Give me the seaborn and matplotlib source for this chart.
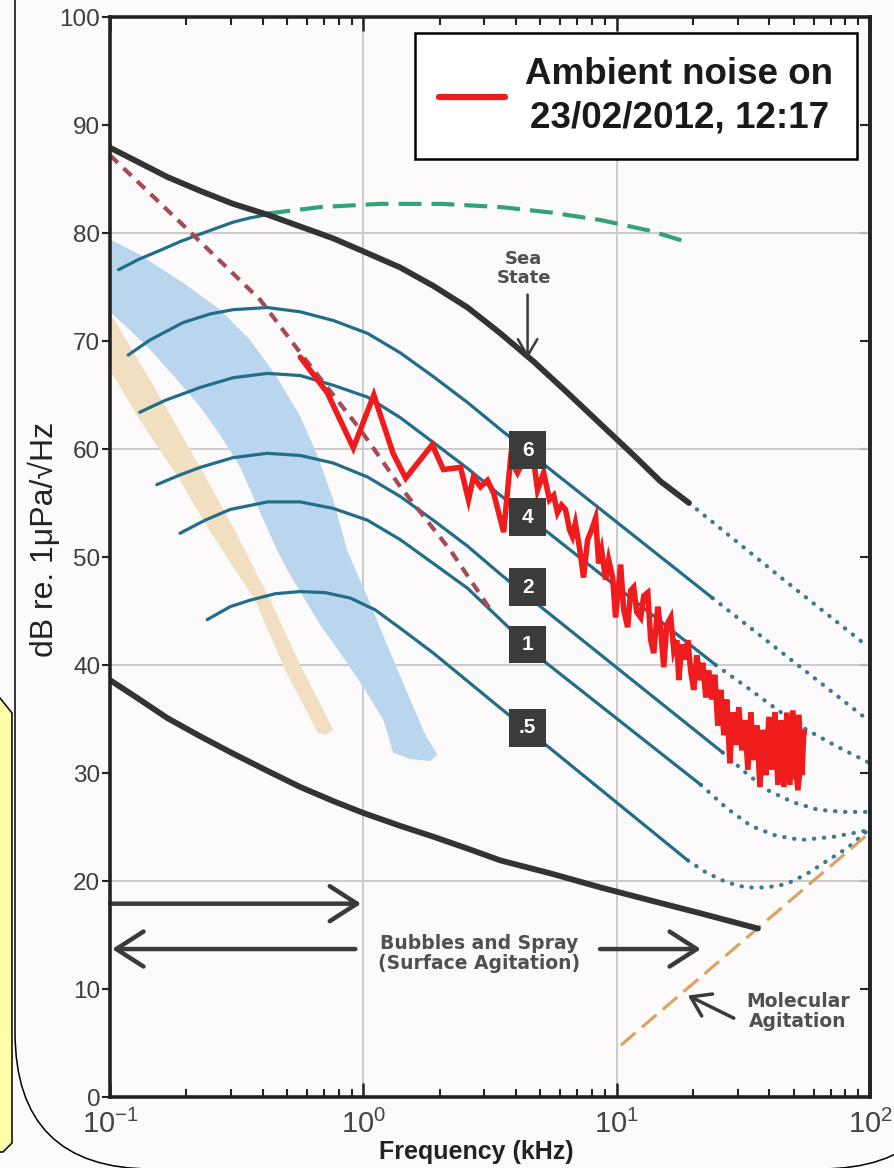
import matplotlib
matplotlib.use("Agg")
import matplotlib.pyplot as plt
import seaborn as sns
from matplotlib.patches import FancyBboxPatch, Polygon
from matplotlib.lines import Line2D

# ----------------------------- data -----------------------------
freq_ticks = [0.1, 1, 10, 100]
db_ticks = [0, 10, 20, 30, 40, 50, 60, 70, 80, 90, 100]
grid_db = [20, 40, 60, 80]
grid_freq = [1, 10]

# heavy black envelope curves
upper_f = [0.100, 0.131, 0.168, 0.227, 0.306, 0.418, 0.564, 0.761, 1.00, 1.40, 1.89, 2.58,
           3.48, 4.70, 6.40, 8.65, 11.7, 14.9, 19.3]
upper_db = [87.9, 86.5, 85.2, 83.9, 82.7, 81.7, 80.6, 79.5, 78.3, 76.8, 75.1, 73.1, 70.7,
            68.1, 65.2, 62.3, 59.4, 57.0, 55.0]
upper_ext_f = [19.3, 44.5, 98.2]
upper_ext_db = [55.0, 48.1, 41.7]
lower_f = [0.100, 0.131, 0.168, 0.227, 0.306, 0.418, 0.564, 0.761, 1.00, 1.40, 1.89, 2.58,
           3.48, 5.49, 8.65, 13.6, 21.5, 36.1]
lower_db = [38.6, 36.8, 35.1, 33.4, 31.8, 30.2, 28.7, 27.4, 26.3, 25.1, 24.1, 23.0, 21.9,
            20.7, 19.4, 18.2, 17.0, 15.6]

# green dashed (rain) and brown dashed (shipping) curves
green_f = [0.418, 0.676, 1.17, 2.02, 3.48, 5.49, 8.65, 13.6, 19.3]
green_db = [81.8, 82.4, 82.7, 82.7, 82.4, 81.9, 81.2, 80.2, 79.1]
brown_f = [0.100, 0.189, 0.392, 0.564, 0.973, 1.40, 2.21, 3.18]
brown_db = [87.2, 81.0, 73.8, 68.9, 61.8, 56.5, 50.6, 45.1]

# molecular agitation (thermal noise)
molec_f = [10.4, 100]
molec_db = [4.8, 24.5]

# sea-state curves (solid part, then dotted extension)
ssA_f = [0.108, 0.131, 0.158, 0.189, 0.227, 0.306, 0.357, 0.418]
ssA_db = [76.6, 77.6, 78.4, 79.2, 79.9, 81.0, 81.4, 81.7]
ss6_f = [0.118, 0.144, 0.194, 0.248, 0.306, 0.418, 0.564, 0.761, 1.04, 1.40, 1.89, 2.58,
         3.48, 5.34, 23.9]
ss6_db = [68.7, 70.1, 71.7, 72.5, 72.9, 73.1, 72.7, 71.9, 70.7, 68.9, 66.7, 64.3, 61.8,
          58.3, 46.2]
ss6_ext_f = [23.9, 48.7, 98.2]
ss6_ext_db = [46.2, 40.5, 34.9]
ss4_f = [0.131, 0.165, 0.227, 0.306, 0.418, 0.564, 0.761, 1.04, 1.40, 1.89, 2.58, 3.48,
         5.34, 24.6]
ss4_db = [63.4, 64.5, 65.7, 66.6, 67.0, 66.8, 65.9, 64.8, 62.9, 60.6, 58.2, 55.7, 52.3,
          40.0]
ss4_ext_f = [24.6, 32.4, 41.7, 53.4, 73.4, 98.2]
ss4_ext_db = [40.0, 38.0, 36.1, 34.3, 32.5, 31.0]
ss2_f = [0.153, 0.189, 0.227, 0.306, 0.418, 0.564, 0.761, 1.04, 1.40, 1.89, 2.58, 3.48,
         5.01, 26.2]
ss2_db = [56.7, 57.6, 58.3, 59.2, 59.6, 59.4, 58.7, 57.4, 55.6, 53.4, 51.0, 48.4, 45.4,
          31.9]
ss2_ext_f = [26.2, 32.4, 39.5, 49.6, 62.3, 78.2, 98.2]
ss2_ext_db = [31.9, 30.0, 28.4, 27.3, 26.6, 26.4, 26.4]
ss1_f = [0.189, 0.237, 0.298, 0.418, 0.564, 0.761, 1.04, 1.40, 1.89, 2.58, 3.48, 5.01,
         21.5]
ss1_db = [52.2, 53.4, 54.4, 55.1, 55.1, 54.5, 53.4, 51.6, 49.4, 47.1, 44.2, 40.6, 28.9]
ss1_ext_f = [21.5, 27.0, 33.9, 42.5, 53.4, 72.1, 98.2]
ss1_ext_db = [28.9, 26.8, 25.1, 24.2, 23.8, 24.1, 24.7]
ss05_f = [0.242, 0.298, 0.357, 0.449, 0.564, 0.708, 0.888, 1.115, 1.40, 1.89, 2.58, 3.48,
          5.01, 19.1]
ss05_db = [44.2, 45.4, 46.0, 46.6, 46.8, 46.7, 46.2, 45.1, 43.4, 41.1, 38.5, 36.0, 33.0,
           21.9]
ss05_ext_f = [19.1, 22.5, 27.0, 32.4, 38.8, 46.6, 55.8, 67.0, 81.9, 98.2]
ss05_ext_db = [21.9, 20.8, 19.9, 19.4, 19.4, 19.7, 20.6, 21.8, 23.1, 24.7]

# sea-state label boxes
label_text = ["6", "4", "2", "1", ".5"]
label_f = [4.45, 4.45, 4.45, 4.45, 4.45]
label_db = [59.9, 53.7, 47.2, 41.9, 34.2]

# shaded bands
blue_f = [0.100, 0.131, 0.194, 0.272, 0.357, 0.449, 0.564, 0.664, 0.761, 0.864, 1.05, 1.28,
          1.53, 1.76, 1.96, 1.84, 1.53, 1.31, 1.20, 0.991, 0.811, 0.676, 0.590, 0.515,
          0.457, 0.385, 0.327, 0.272, 0.227, 0.181, 0.144, 0.120, 0.100]
blue_db = [79.4, 78.0, 75.4, 72.9, 70.1, 66.9, 63.0, 59.2, 55.3, 50.6, 46.0, 41.1, 36.8,
           33.5, 31.7, 31.1, 31.3, 31.9, 34.9, 38.1, 41.1, 43.7, 46.0, 48.3, 50.6, 54.5,
           58.3, 61.3, 63.9, 66.6, 69.2, 71.0, 72.7]
tan_f = [0.100, 0.144, 0.227, 0.306, 0.429, 0.564, 0.761, 0.708, 0.658, 0.492, 0.374,
         0.242, 0.189, 0.131, 0.100]
tan_db = [72.6, 66.4, 58.3, 52.8, 46.0, 40.0, 34.0, 33.5, 33.8, 39.5, 46.0, 52.8, 57.1,
          62.7, 67.3]

# measured ambient noise
red_f = [0.564, 0.721, 0.913, 1.10, 1.31, 1.47, 1.87, 2.07, 2.42, 2.60, 2.72, 2.90, 3.09,
         3.27, 3.58, 3.81, 4.06, 4.45, 4.70, 4.87, 5.15, 5.43, 5.64, 5.84, 6.06, 6.28,
         6.52, 6.69, 6.87, 7.14, 7.40, 7.68, 7.96, 8.26, 8.49, 8.72, 9.05, 9.30, 9.64,
         9.90, 10.37, 10.66, 11.05, 11.36, 11.67, 12.0, 12.44, 12.79, 13.26, 13.63, 14.0,
         14.53, 14.93, 15.34, 15.76, 16.35, 16.80, 17.27, 17.59, 18.07, 18.57, 19.09,
         19.61, 20.15, 20.71, 21.29, 21.88, 22.48, 23.10, 23.74, 24.40, 25.07, 25.77,
         26.48, 27.22, 27.97, 28.74, 29.54, 30.36, 31.20, 32.06, 32.95, 33.86, 34.80,
         35.76, 36.75, 37.77, 38.81, 39.89, 40.99, 42.13, 43.29, 44.49, 45.72, 46.98,
         48.29, 49.62, 51.0, 52.41, 53.86, 54.85, 53.37, 51.9, 49.2]
red_db = [68.5, 65.2, 60.1, 65.0, 59.6, 57.3, 60.4, 58.1, 58.3, 55.3, 57.4, 56.5, 57.1,
          55.9, 52.3, 59.0, 57.8, 59.6, 59.0, 56.2, 57.8, 55.3, 55.7, 54.1, 54.8, 54.4,
          52.5, 51.9, 53.1, 50.8, 48.1, 51.6, 52.5, 53.6, 49.4, 50.6, 47.9, 49.7, 48.1,
          44.4, 49.3, 45.1, 43.5, 46.9, 47.2, 44.9, 44.4, 46.4, 46.7, 42.3, 41.1, 45.4,
          43.2, 39.8, 43.7, 44.4, 41.4, 42.3, 38.6, 41.9, 40.5, 42.3, 39.4, 37.7, 40.9,
          38.6, 40.2, 37.0, 39.5, 36.8, 39.1, 34.4, 37.7, 33.5, 36.8, 30.9, 35.6, 32.6,
          36.1, 32.1, 34.9, 30.3, 35.6, 31.2, 34.4, 28.7, 34.0, 29.8, 35.2, 30.3, 35.6,
          28.9, 34.9, 28.7, 35.6, 28.9, 35.8, 29.4, 35.4, 29.8, 34.0, 31.2, 28.4, 34.9]
legend_label = "Ambient noise on\n23/02/2012, 12:17"

# ----------------------------- style -----------------------------
BG = "#fcfafb"
TEAL = "#226e88"
DOTC = "#3f7a8b"
BLACK = "#333333"
RED = "#ee1c1c"
ANN = "#505050"
ARR = "#3a3a3a"

sns.set_theme(style="white")
plt.rcParams["font.family"] = ["Liberation Sans", "DejaVu Sans"]
plt.rcParams["mathtext.default"] = "regular"
plt.rcParams["axes.unicode_minus"] = False

fig = plt.figure(figsize=(8.94, 11.68), dpi=100, facecolor=BG)
ax = fig.add_axes([110 / 894, 71 / 1168, 760 / 894, 1080 / 1168])
ax.set_facecolor(BG)
ax.set_xscale("log")
ax.set_xlim(0.1, 100)
ax.set_ylim(0, 100)

for g in grid_db:
    ax.axhline(g, color="#c8c8c8", lw=1.3, zorder=0.5)
for v in grid_freq:
    ax.axvline(v, color="#c8c8c8", lw=1.3, zorder=0.5)

ax.fill(blue_f, blue_db, color="#b9d6ee", lw=0, zorder=1)
ax.fill(tan_f, tan_db, color="#f2dfc1", lw=0, zorder=1.1)


def curve(f, db, **kw):
    sns.lineplot(x=f, y=db, ax=ax, sort=False, estimator=None, **kw)


dot_kw = dict(color=DOTC, lw=3.0, linestyle=(0, (0.1, 2.3)), dash_capstyle="round",
              solid_joinstyle="round", zorder=2)
for fx, dbx in [(upper_ext_f, upper_ext_db), (ss6_ext_f, ss6_ext_db), (ss4_ext_f, ss4_ext_db),
                (ss2_ext_f, ss2_ext_db), (ss1_ext_f, ss1_ext_db), (ss05_ext_f, ss05_ext_db)]:
    curve(fx, dbx, **dot_kw)

for fx, dbx in [(ssA_f, ssA_db), (ss6_f, ss6_db), (ss4_f, ss4_db), (ss2_f, ss2_db),
                (ss1_f, ss1_db), (ss05_f, ss05_db)]:
    curve(fx, dbx, color=TEAL, lw=2.3, solid_joinstyle="round", zorder=2.2)

curve(molec_f, molec_db, color="#d9a465", lw=2.3, linestyle=(0, (6, 2.6)), zorder=2.3)
curve(green_f, green_db, color="#33a377", lw=3.0, linestyle=(0, (5.5, 2.4)), zorder=2.4)
curve(brown_f, brown_db, color="#a44b57", lw=3.0, linestyle=(0, (2.6, 1.9)), zorder=2.5)
curve(upper_f, upper_db, color=BLACK, lw=4.2, solid_joinstyle="round", zorder=3)
curve(lower_f, lower_db, color=BLACK, lw=4.2, solid_joinstyle="round", zorder=3)
curve(red_f, red_db, color=RED, lw=4.0, solid_joinstyle="miter", zorder=4)

# sea-state label boxes
sns.scatterplot(x=label_f, y=label_db, ax=ax, marker="s", s=740, color="#3b3b3b",
                edgecolor="none", zorder=6)
for t, fx, dbx in zip(label_text, label_f, label_db):
    ax.text(fx, dbx, t, color="white", fontsize=15, fontweight="bold", ha="center",
            va="center", zorder=7)

# annotations
arrow_big = dict(arrowstyle="->,head_length=0.7,head_width=0.45", lw=3.2, color=ARR,
                 mutation_scale=28, shrinkA=0, shrinkB=0)
ax.text(4.29, 76.7, "Sea\nState", ha="center", va="center", fontsize=13,
        fontweight="bold", color=ANN, family="DejaVu Sans", linespacing=1.05)
ax.annotate("", xy=(4.45, 68.4), xytext=(4.45, 74.3),
            arrowprops=dict(arrowstyle="->,head_length=0.6,head_width=0.35", lw=1.8,
                            color=ARR, mutation_scale=20, shrinkA=0, shrinkB=0))
ax.annotate("", xy=(0.98, 17.9), xytext=(0.1, 17.9), arrowprops=arrow_big)
ax.annotate("", xy=(0.102, 13.7), xytext=(0.93, 13.7), arrowprops=arrow_big)
ax.annotate("", xy=(21.5, 13.7), xytext=(8.6, 13.7), arrowprops=arrow_big)
ax.text(2.87, 13.3, "Bubbles and Spray\n(Surface Agitation)", ha="center", va="center",
        fontsize=13.5, fontweight="bold", color=ANN, family="DejaVu Sans", linespacing=1.05)
ax.annotate("", xy=(19.1, 9.4), xytext=(29.0, 7.3),
            arrowprops=dict(arrowstyle="->,head_length=0.6,head_width=0.4", lw=2.5,
                            color=ARR, mutation_scale=22, shrinkA=0, shrinkB=0))
ax.text(51.9, 7.9, "Molecular\nAgitation", ha="center", va="center", fontsize=13.5,
        fontweight="bold", color=ANN, family="DejaVu Sans", linespacing=1.05)

# legend
handle = Line2D([], [], color=RED, lw=4.5)
leg = ax.legend(handles=[handle], labels=[legend_label], loc="upper right",
                bbox_to_anchor=(857 / 894, 1 - 33 / 1168), bbox_transform=fig.transFigure,
                borderaxespad=0, prop={"family": "Liberation Sans", "weight": "bold", "size": 26.5},
                handlelength=1.8, handletextpad=0.55, borderpad=0.65, frameon=True,
                fancybox=False, framealpha=1, edgecolor="black", facecolor="white")
leg.get_frame().set_linewidth(1.8)
leg.set_zorder(10)
for t in leg.get_texts():
    t.set_multialignment("center")
    t.set_linespacing(1.3)
    t.set_color("#1a1a1a")

# axes, ticks, labels
ax.set_xticks(freq_ticks)
ax.set_yticks(db_ticks)
ax.tick_params(axis="x", which="major", direction="in", length=10, width=1.8, top=True,
               bottom=True, labelsize=21, pad=9, labelcolor="#444444", color="#222222")
ax.tick_params(axis="x", which="minor", direction="in", length=6, width=1.5, top=True,
               bottom=True, color="#222222")
ax.tick_params(axis="y", which="major", direction="out", length=6, width=1.5, left=True,
               right=False, labelsize=17.5, pad=1, labelcolor="#3c3c3c", color="#222222")
sec = ax.secondary_yaxis("right")
sec.set_yticks(db_ticks)
sec.tick_params(direction="in", length=7, width=1.5, labelright=False, color="#222222")
sec.spines["right"].set_linewidth(2.6)
sec.spines["right"].set_color("#222222")
for s in ax.spines.values():
    s.set_linewidth(2.6)
    s.set_color("#222222")
    s.set_zorder(8)

ax.set_xlabel("Frequency (kHz)", fontsize=18, fontweight="bold", color="#222222")
ax.xaxis.set_label_coords(0.482, -0.040)
ax.set_ylabel("dB re. 1\u03bcPa/\u221aHz", fontsize=23, color="#222222")
ax.yaxis.set_label_coords(-0.066, 0.516)

# page decorations (rounded outline and yellow side box)
fig.add_artist(FancyBboxPatch((0.15, -0.01), 9.42, 13.7,
                              boxstyle="round,pad=0,rounding_size=1.37",
                              transform=fig.dpi_scale_trans, fill=False, ec="black",
                              lw=1.1, zorder=20))
fig.add_artist(Polygon([(-0.2, 4.70), (0.0, 4.70), (0.12, 4.55), (0.12, 0.25),
                        (0.03, 0.16), (-0.2, 0.16)], closed=True,
                       transform=fig.dpi_scale_trans, fc="#fefea8", ec="black", lw=1.1,
                       zorder=21))

fig.savefig("out.png", dpi=100, facecolor=BG)
